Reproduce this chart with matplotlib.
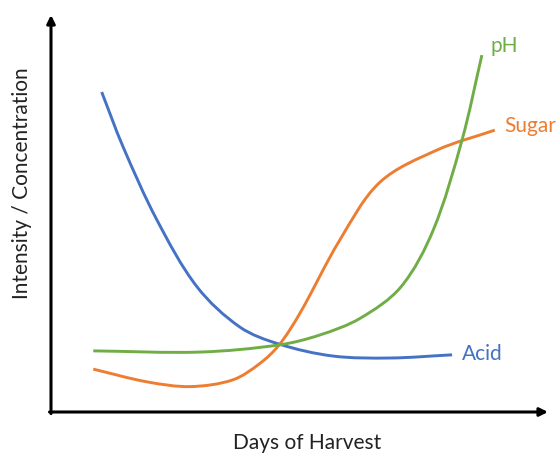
import matplotlib
matplotlib.use("Agg")
import numpy as np
import matplotlib.pyplot as plt
from matplotlib.path import Path
from matplotlib.patches import PathPatch

plt.rcParams['font.family'] = ['Lato', 'DejaVu Sans']

# Curve values (days 0-100, intensity 0-100)
acid_x = [10.2, 14.5, 21.3, 29.4, 38.0, 45.9, 56.7, 68.2, 80.7]
acid_y = [80.6, 66.8, 48.4, 31.5, 21.4, 17.1, 14.1, 13.6, 14.4]

ph_x = [8.5, 30.0, 45.9, 54.1, 62.2, 70.4, 76.9, 82.7, 86.7]
ph_y = [15.4, 15.1, 16.9, 19.4, 23.6, 31.5, 45.8, 68.5, 89.9]

sugar_x = [8.5, 19.3, 28.0, 36.6, 42.1, 45.9, 50.1, 58.1, 66.2, 77.7, 89.3]
sugar_y = [10.8, 7.6, 6.4, 8.1, 12.3, 16.9, 24.9, 43.3, 57.9, 66.0, 71.0]

blue = '#4472C4'
orange = '#ED7D31'
green = '#70AD47'


def smooth_path(xs, ys):
    # chordal Catmull-Rom through the points, as cubic bezier segments
    p = np.column_stack([xs, ys])
    d = np.hypot(*(np.diff(p, axis=0) * [4.97, 3.97]).T)
    t = np.concatenate([[0], np.cumsum(d)])
    n = len(p)
    m = np.zeros_like(p)
    for i in range(n):
        a, b = max(i - 1, 0), min(i + 1, n - 1)
        m[i] = (p[b] - p[a]) / (t[b] - t[a])
    verts = [p[0]]
    codes = [Path.MOVETO]
    for i in range(n - 1):
        h = t[i + 1] - t[i]
        verts += [p[i] + m[i] * h / 3, p[i + 1] - m[i + 1] * h / 3, p[i + 1]]
        codes += [Path.CURVE4] * 3
    return Path(verts, codes)


fig = plt.figure(figsize=(5.58, 4.55), dpi=100)
ax = fig.add_axes([51 / 558, 43 / 455, 497 / 558, 397 / 455])
ax.set_xlim(0, 100)
ax.set_ylim(0, 100)
ax.axis('off')

for xs, ys, c in [(acid_x, acid_y, blue), (sugar_x, sugar_y, orange),
                  (ph_x, ph_y, green)]:
    ax.add_patch(PathPatch(smooth_path(xs, ys), facecolor='none',
                           edgecolor=c, lw=2.1, capstyle='butt'))

# series labels at the line ends
ax.text(88.5, 92.2, 'pH', color=green, fontsize=15, va='center')
ax.text(91.3, 72.0, 'Sugar', color=orange, fontsize=15, va='center')
ax.text(82.7, 14.6, 'Acid', color=blue, fontsize=15, va='center')

# axes drawn as arrows
arrow = dict(arrowstyle='-|>', lw=2.2, color='black', mutation_scale=12,
             shrinkA=0, shrinkB=0)
ax.annotate('', xy=(100, 0), xytext=(-0.3, 0), arrowprops=arrow,
            annotation_clip=False)
ax.annotate('', xy=(0, 100), xytext=(0, -0.4), arrowprops=arrow,
            annotation_clip=False)

fig.text(307 / 558, 1 - 443 / 455, 'Days of Harvest', fontsize=15,
         color='#222222', ha='center', va='center')
fig.text(22 / 558, 1 - 183 / 455, 'Intensity / Concentration', fontsize=15,
         color='#222222', ha='center', va='center', rotation=90)

fig.savefig('out.png', dpi=100)
